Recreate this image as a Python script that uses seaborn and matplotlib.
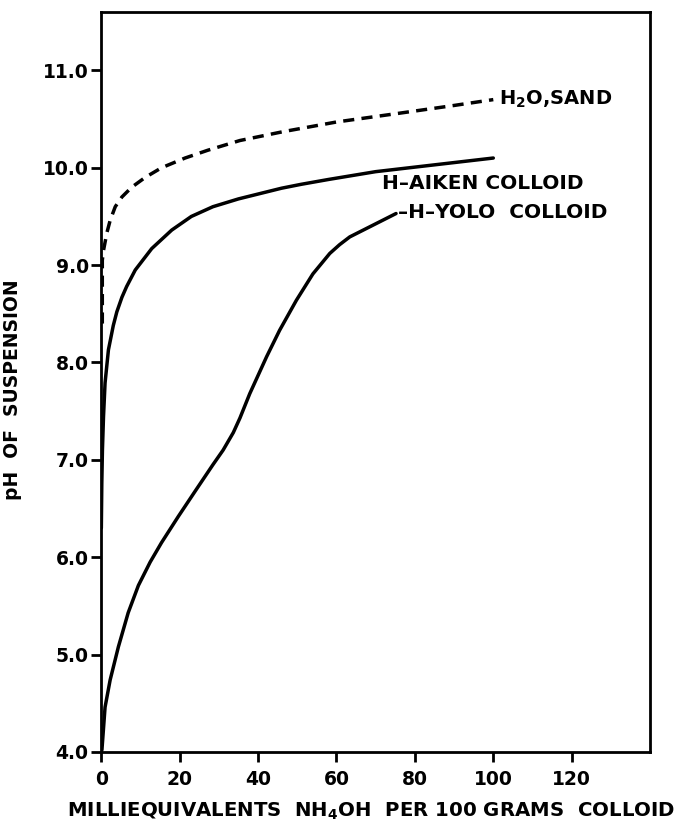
import matplotlib
matplotlib.use("Agg")
import matplotlib.pyplot as plt
import seaborn as sns

# Data
sand_x = [0.3, 0.3, 0.6, 1.45, 2.3, 3.6, 5.3, 7.8, 11.2, 15.4, 21.4, 27.2, 35.4, 46.3, 60, 76, 90, 100]
sand_y = [8.4, 9.05, 9.15, 9.33, 9.46, 9.60, 9.70, 9.80, 9.90, 10.0, 10.10, 10.18, 10.28, 10.37, 10.47, 10.56, 10.64, 10.70]

aiken_x = [0.05, 0.17, 0.33, 0.6, 1.0, 1.86, 3.1, 4.0, 5.3, 6.5, 8.7, 12.9, 18, 23, 28.5, 35, 41, 46, 51, 58, 70, 85, 100]
aiken_y = [6.30, 6.76, 7.10, 7.44, 7.79, 8.13, 8.38, 8.52, 8.67, 8.78, 8.95, 9.17, 9.36, 9.50, 9.60, 9.68, 9.74, 9.79, 9.83, 9.88, 9.96, 10.03, 10.10]

yolo_x = [0.2, 1.0, 2.3, 4.4, 6.9, 9.5, 12.5, 15.4, 19.7, 24.0, 28.5, 31.1, 33.7, 35.4, 37.9, 42.2, 45.5, 49.8, 54.0, 58.3, 60.8, 63.4, 69.3, 75.2]
yolo_y = [4.02, 4.46, 4.74, 5.08, 5.43, 5.71, 5.95, 6.15, 6.42, 6.68, 6.95, 7.10, 7.28, 7.43, 7.68, 8.06, 8.33, 8.64, 8.91, 9.12, 9.21, 9.29, 9.41, 9.53]

x_ticks = [0, 20, 40, 60, 80, 100, 120]
y_ticks = [4.0, 5.0, 6.0, 7.0, 8.0, 9.0, 10.0, 11.0]
y_tick_labels = ["4.0", "5.0", "6.0", "7.0", "8.0", "9.0", "10.0", "11.0"]

sns.set_theme(style="ticks")
fam = "DejaVu Sans"
plt.rcParams['font.family'] = [fam]
plt.rcParams['font.weight'] = 'bold'
plt.rcParams['mathtext.fontset'] = 'custom'
plt.rcParams['mathtext.rm'] = fam + ':bold'
plt.rcParams['mathtext.bf'] = fam + ':bold'
for key in ['text.color', 'axes.labelcolor', 'xtick.color', 'ytick.color', 'axes.edgecolor']:
    plt.rcParams[key] = 'black'

fig = plt.figure(figsize=(6.88, 8.32), dpi=100)
ax = fig.add_axes([0.147, 0.0962, 0.798, 0.8894])

lw = 2.5
sns.lineplot(x=sand_x, y=sand_y, ax=ax, sort=False, estimator=None, color="black", linewidth=lw)
ax.lines[-1].set_dashes((3.2, 2.1))
sns.lineplot(x=aiken_x, y=aiken_y, ax=ax, sort=False, estimator=None, color="black", linewidth=lw)
sns.lineplot(x=yolo_x, y=yolo_y, ax=ax, sort=False, estimator=None, color="black", linewidth=lw)
for ln in ax.lines:
    ln.set_solid_joinstyle('round')
    ln.set_solid_capstyle('round')

ax.set_xlim(0, 140)
ax.set_ylim(4.0, 11.6)
tfs = 13.5
ax.set_xticks(x_ticks)
ax.set_xticklabels([str(t) for t in x_ticks], fontsize=tfs, fontweight='bold')
ax.set_yticks(y_ticks)
ax.set_yticklabels(y_tick_labels, fontsize=tfs, fontweight='bold')
ax.tick_params(direction='out', length=7, width=2, pad=2)
ax.tick_params(axis='x', pad=6)

for s in ax.spines.values():
    s.set_linewidth(2)

lfs = 14.5
ax.text(101.5, 10.70, r"H$_2$O,SAND", fontsize=lfs - 0.5, fontweight='bold', va='center', ha='left')
ax.text(71.5, 9.84, "H–AIKEN COLLOID", fontsize=lfs, fontweight='bold', va='center', ha='left')
ax.text(75.6, 9.54, "–H–YOLO  COLLOID", fontsize=lfs, fontweight='bold', va='center', ha='left')

ax.set_ylabel("pH  OF  SUSPENSION", fontsize=13.5, fontweight='bold')
ax.yaxis.set_label_coords(-0.145, 0.49)
ax.set_xlabel(r"MILLIEQUIVALENTS  NH$_4$OH  PER 100 GRAMS  COLLOID", fontsize=14.2,
              fontweight='bold')
ax.xaxis.set_label_coords(0.492, -0.066)

fig.savefig("out.png", dpi=100)
